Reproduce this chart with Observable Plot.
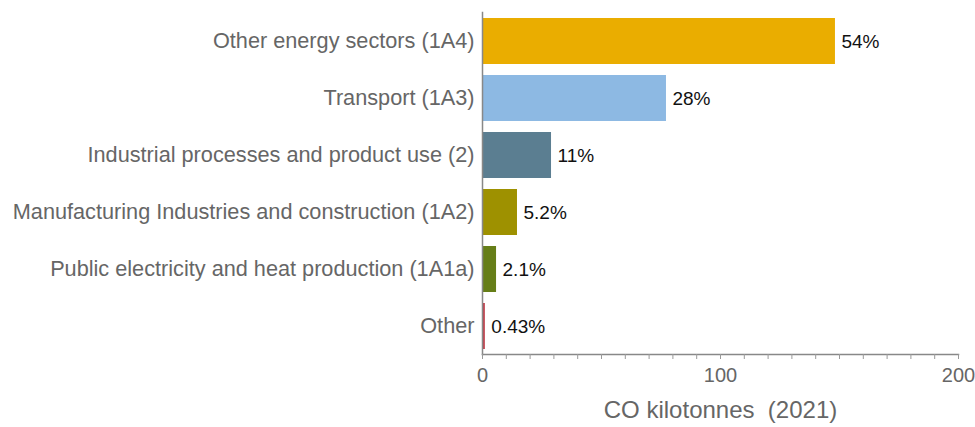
<!DOCTYPE html>
<html>
<head>
<meta charset="utf-8">
<script src="https://cdn.jsdelivr.net/npm/d3@7"></script>
<script src="https://cdn.jsdelivr.net/npm/@observablehq/plot@0.6"></script>
<style>
  body { margin: 0; background: #fff; }
  svg { font-family: "Liberation Sans", Arial, sans-serif; }
</style>
</head>
<body>
<div id="chart"></div>
<script>
const categories = [
  "Other energy sectors (1A4)",
  "Transport (1A3)",
  "Industrial processes and product use (2)",
  "Manufacturing Industries and construction (1A2)",
  "Public electricity and heat production (1A1a)",
  "Other"
];
const values = [148.3, 77.3, 29.0, 14.7, 5.9, 1.2];
const shareLabels = ["54%", "28%", "11%", "5.2%", "2.1%", "0.43%"];
const colors = ["#EAAD00", "#8DB9E3", "#5B7E91", "#9E9100", "#667E18", "#C0404C"];
const xTicks = [0, 100, 200];
const minorTicks = d3.range(0, 201, 10);
const xTitle = "CO kilotonnes\u00a0 (2021)";

const data = categories.map((c, i) => ({category: c, value: values[i], label: shareLabels[i], color: colors[i]}));

const chart = Plot.plot({
  width: 975,
  height: 427,
  marginLeft: 482,
  marginRight: 17,
  marginTop: 12,
  marginBottom: 73,
  style: {fontFamily: "'Liberation Sans', Arial, sans-serif", background: "#fff"},
  x: {domain: [0, 200], axis: null},
  y: {domain: categories, paddingInner: 0.2, paddingOuter: 0.1, axis: null},
  marks: [
    Plot.barX(data, {y: "category", x: "value", fill: "color"}),
    Plot.text(data, {y: "category", x: "value", text: "label", textAnchor: "start", dx: 6, fontSize: 19, fill: "#111"}),
    Plot.frame({anchor: "bottom", stroke: "#888", strokeWidth: 1.5}),
    Plot.frame({anchor: "left", stroke: "#888", strokeWidth: 1.5}),
    Plot.axisX({ticks: minorTicks, tickFormat: () => "", tickSize: 5, stroke: "#999", label: null}),
    Plot.text(xTicks, {x: d => d, frameAnchor: "bottom", dy: 27, fontSize: 20, fill: "#666", text: d => String(d)}),
    Plot.text(categories, {y: d => d, frameAnchor: "left", textAnchor: "end", dx: -8, fontSize: 21.7, fill: "#666", text: d => d}),
    Plot.text([xTitle], {frameAnchor: "bottom", dy: 63, fontSize: 24, fill: "#666", text: d => d})
  ]
});
document.getElementById("chart").appendChild(chart);
</script>
</body>
</html>
